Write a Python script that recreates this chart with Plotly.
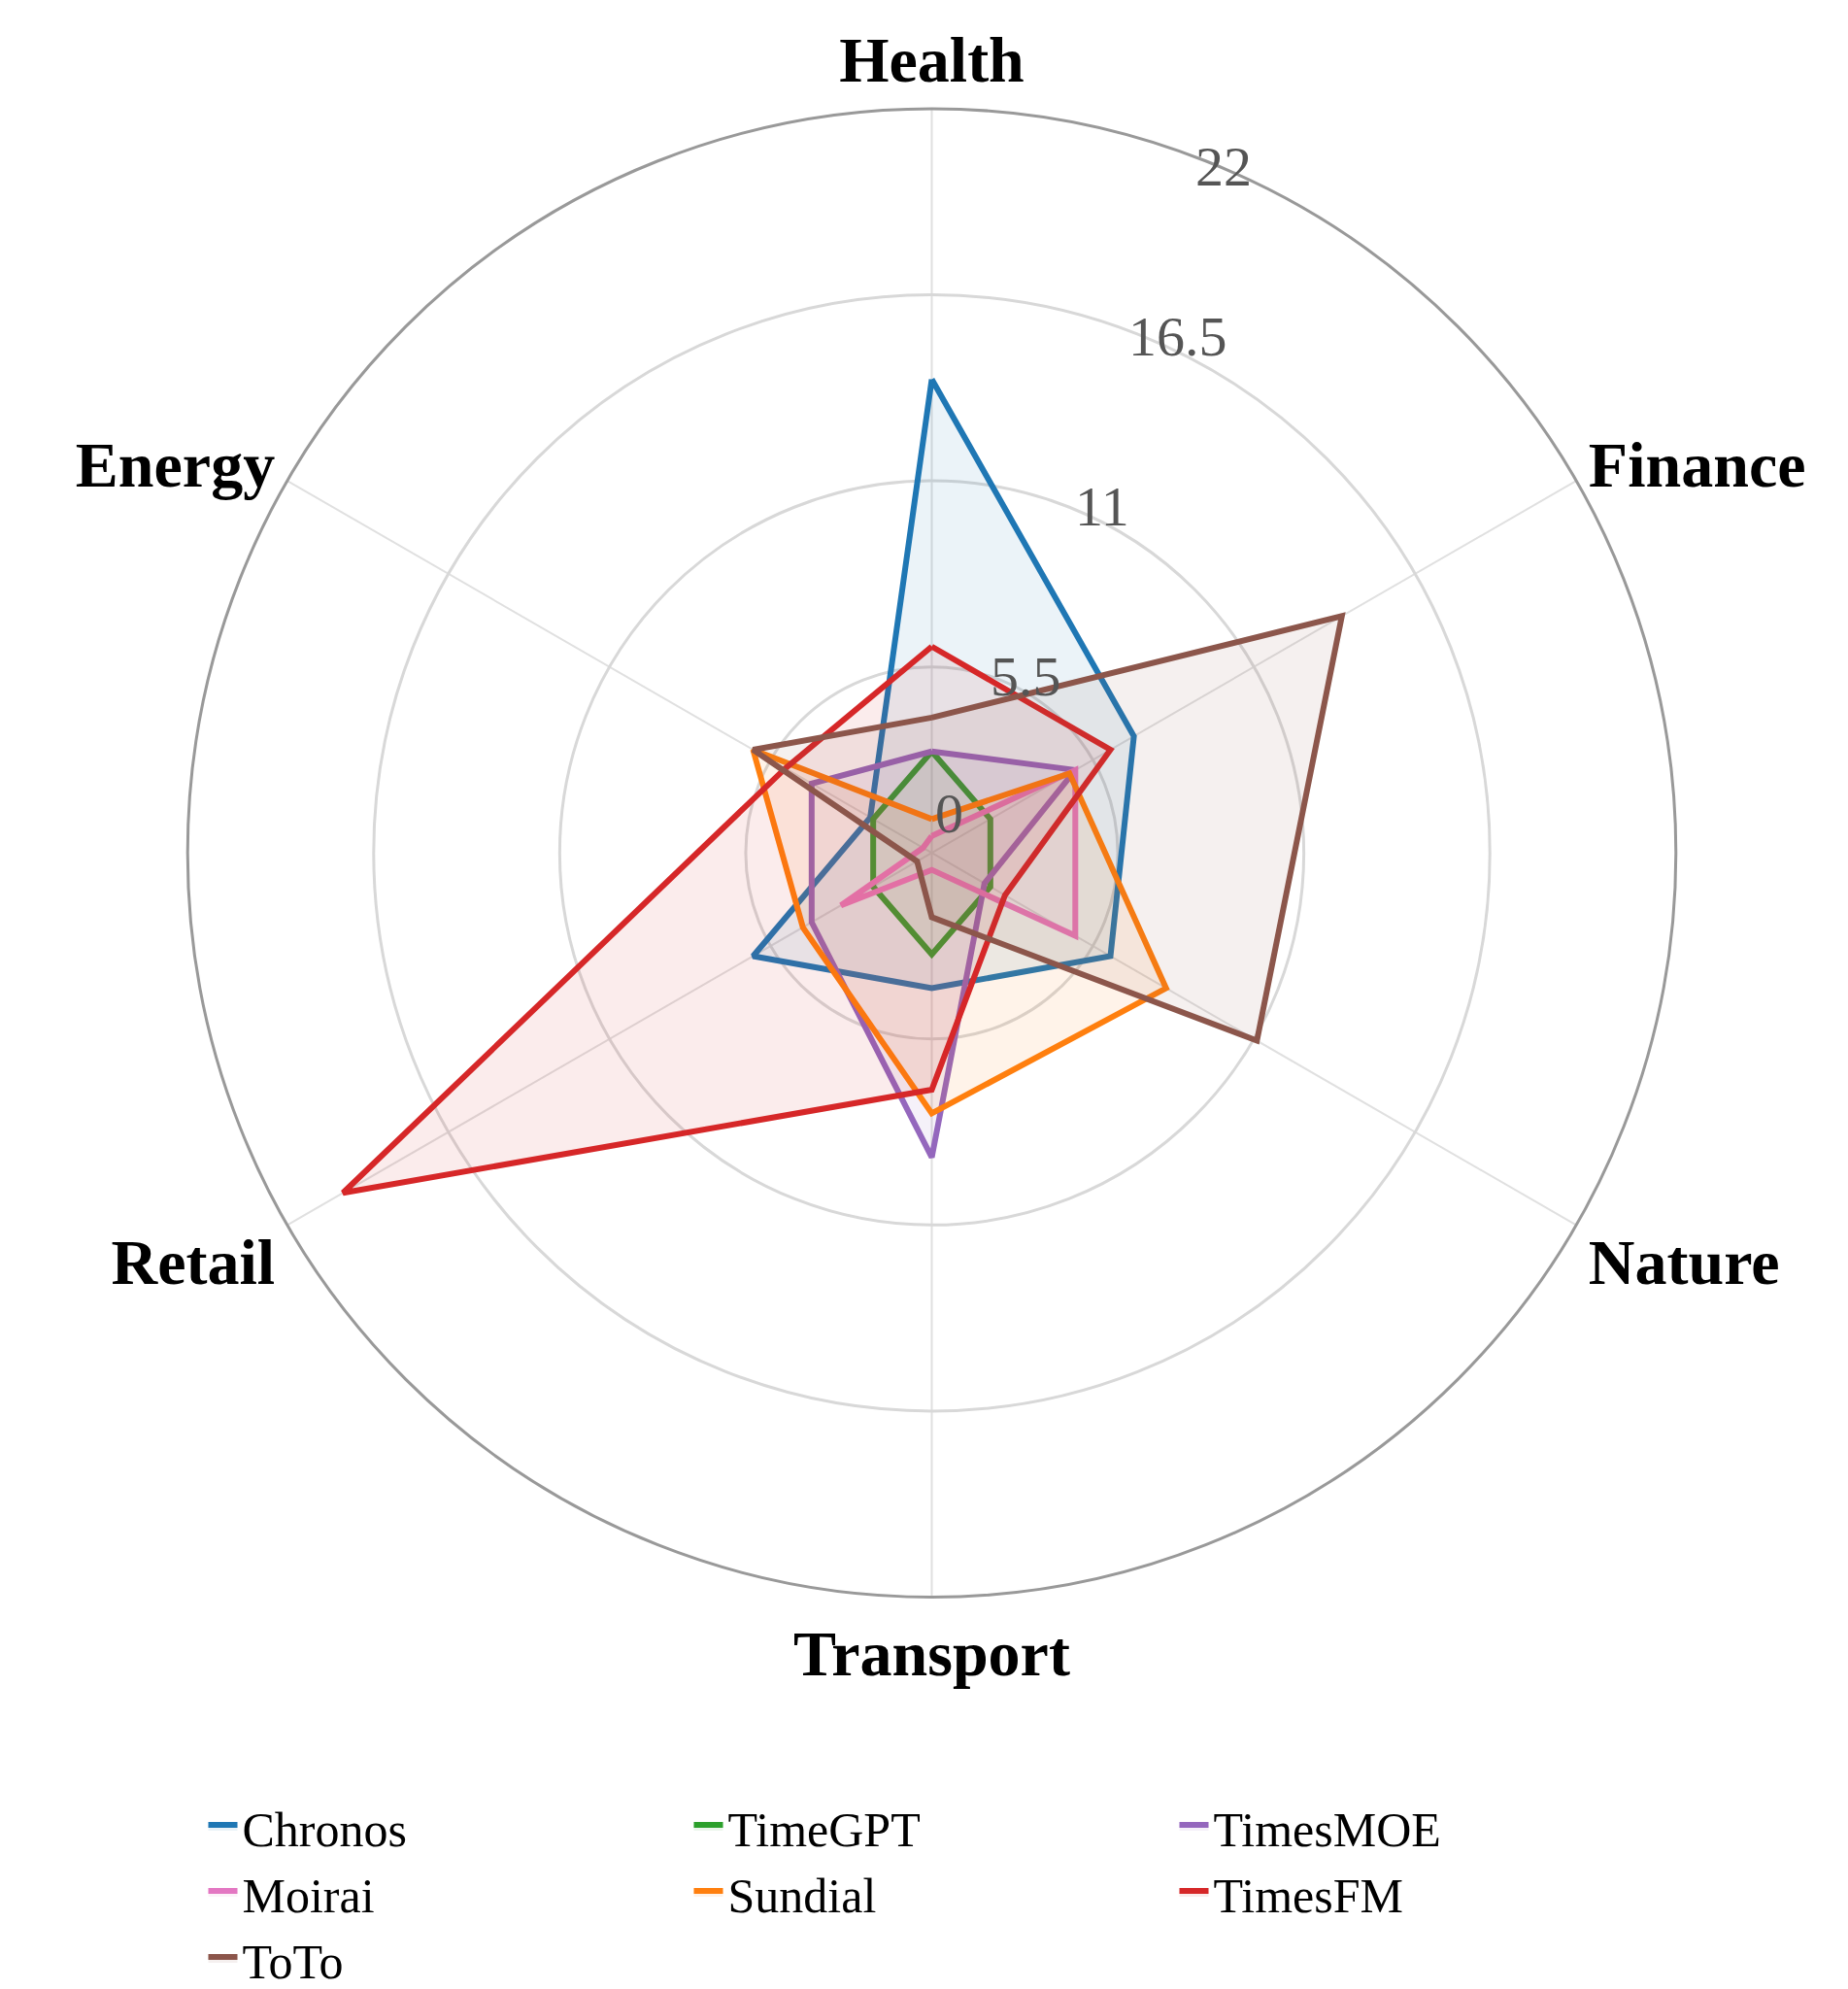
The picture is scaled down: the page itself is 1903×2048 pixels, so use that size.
import math
import plotly.graph_objects as go

categories = ["Health", "Finance", "Nature", "Transport", "Retail", "Energy"]
models = ["Chronos", "TimeGPT", "TimesMOE", "Moirai", "Sundial", "TimesFM", "ToTo"]
chronos = [14.0, 6.9, 6.1, 4.0, 6.1, 2.1]
timegpt = [3.0, 2.0, 2.0, 3.0, 2.0, 2.0]
timesmoe = [3.0, 4.9, 1.8, 9.0, 4.1, 4.1]
moirai = [0.5, 4.9, 4.9, 0.5, 3.1, 0.3]
sundial = [1.0, 4.7, 8.0, 7.7, 4.4, 6.1]
timesfm = [6.1, 6.1, 2.5, 7.0, 20.1, 5.0]
toto = [4.0, 14.0, 11.1, 1.9, 0.5, 6.1]
series = [chronos, timegpt, timesmoe, moirai, sundial, timesfm, toto]
colors = ["#1f77b4", "#2ca02c", "#9467bd", "#e377c2", "#ff7f0e", "#d62728", "#8c564b"]
fills = ["rgba(31,119,180,0.09)", "rgba(44,160,44,0.09)", "rgba(148,103,189,0.09)",
         "rgba(227,119,194,0.09)", "rgba(255,127,14,0.09)", "rgba(214,39,40,0.09)",
         "rgba(140,86,75,0.09)"]
ticks = [0, 5.5, 11, 16.5, 22]
tick_text = ["0", "5.5", "11", "16.5", "22"]

W, H = 1903, 2048
dom_x = [0.095, 0.905]
dom_y = [0.197, 0.949]

fig = go.Figure()
for name, vals, c, f in zip(models, series, colors, fills):
    fig.add_trace(go.Scatterpolar(
        r=vals + vals[:1], theta=categories + categories[:1], name=name,
        mode="lines", line=dict(color=c, width=6), fill="toself", fillcolor=f))

# radial tick labels as horizontal text along the 66 deg direction
cx = (dom_x[0] + dom_x[1]) / 2 * W
cy = (dom_y[0] + dom_y[1]) / 2 * H
R = (dom_x[1] - dom_x[0]) / 2 * W
ang = math.radians(66)
annotations = []
for v, t in zip(ticks, tick_text):
    rp = v / 22 * R + 45
    annotations.append(dict(
        x=(cx + rp * math.cos(ang)) / W, y=(cy + rp * math.sin(ang)) / H,
        xref="paper", yref="paper", text=t, showarrow=False,
        font=dict(size=58, color="#555555", family="Liberation Serif")))

fig.update_layout(
    width=W, height=H, margin=dict(l=0, r=0, t=0, b=0),
    paper_bgcolor="white", font=dict(family="Liberation Serif", color="black"),
    annotations=annotations,
    polar=dict(
        domain=dict(x=dom_x, y=dom_y),
        bgcolor="white",
        angularaxis=dict(rotation=90, direction="clockwise",
                         tickfont=dict(size=66, family="Liberation Serif", color="black",
                                       weight="bold"),
                         gridcolor="#e0e0e0", gridwidth=2, linecolor="#999999", linewidth=3,
                         ticks=""),
        radialaxis=dict(range=[0, 22], tickvals=ticks, showticklabels=False,
                        showline=False, ticks="", gridcolor="#d8d8d8", gridwidth=2.5),
    ),
    legend=dict(orientation="h", x=0.5, xanchor="center", y=0.1, yanchor="top",
                font=dict(size=50), entrywidth=455, entrywidthmode="pixels"),
)
fig.write_html("out.html")
